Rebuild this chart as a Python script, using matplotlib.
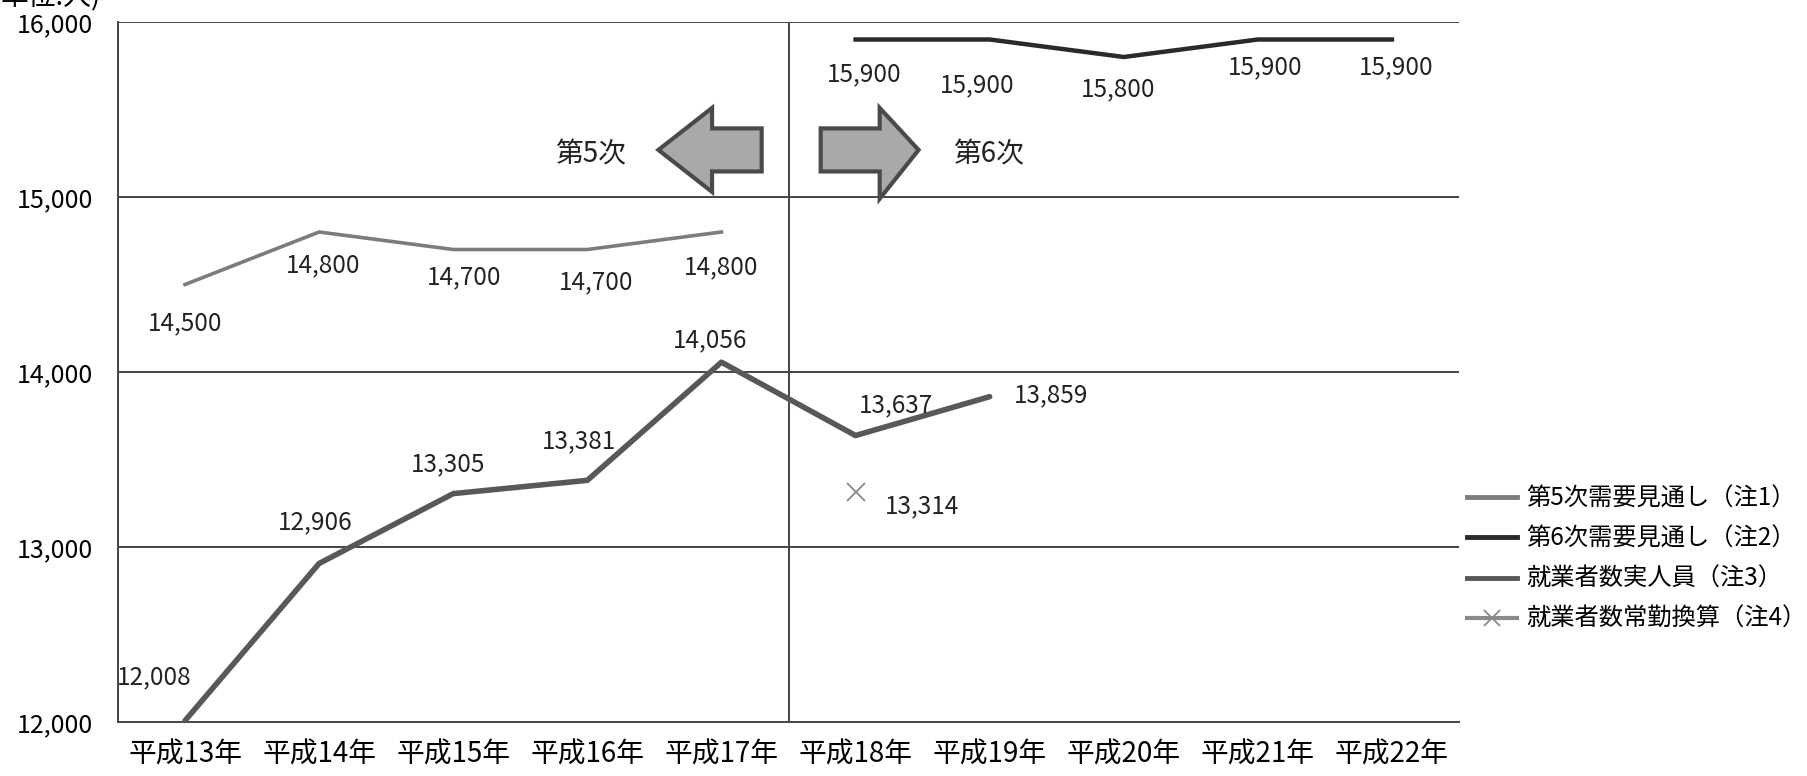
import matplotlib
matplotlib.use("Agg")
import matplotlib.pyplot as plt
from matplotlib.patches import Polygon
from matplotlib.lines import Line2D

plt.rcParams['font.family'] = ['Noto Sans CJK JP', 'DejaVu Sans']

categories = ["平成13年", "平成14年", "平成15年", "平成16年", "平成17年",
              "平成18年", "平成19年", "平成20年", "平成21年", "平成22年"]
plan5_idx = [0, 1, 2, 3, 4]
plan5 = [14500, 14800, 14700, 14700, 14800]
plan6_idx = [5, 6, 7, 8, 9]
plan6 = [15900, 15900, 15800, 15900, 15900]
actual_idx = [0, 1, 2, 3, 4, 5, 6]
actual = [12008, 12906, 13305, 13381, 14056, 13637, 13859]
fte_idx = [5]
fte = [13314]
legend_labels = ["第5次需要見通し（注1）", "第6次需要見通し（注2）",
                 "就業者数実人員（注3）", "就業者数常勤換算（注4）"]
yticks = [12000, 13000, 14000, 15000, 16000]

c5 = "#7c7c7c"
c6 = "#2a2a2a"
ca = "#585858"
cx = "#8a8a8a"

fig = plt.figure(figsize=(18.08, 7.76), dpi=100)
ax = fig.add_axes([118/1808, 1 - 722/776, (1459-118)/1808, (722-22)/776])
ax.set_xlim(-0.5, 9.5)
ax.set_ylim(12000, 16000)

for y in yticks[1:]:
    ax.axhline(y, color="#444444", lw=1.4, zorder=1)
ax.axvline(4.5, color="#444444", lw=1.4, zorder=1)
for s in ["top", "right"]:
    ax.spines[s].set_visible(False)
for s in ["left", "bottom"]:
    ax.spines[s].set_color("#444444")
    ax.spines[s].set_linewidth(1.4)

ax.plot(plan5_idx, plan5, color=c5, lw=2.6, zorder=3)
ax.plot(plan6_idx, plan6, color=c6, lw=3.2, zorder=3)
ax.plot(actual_idx, actual, color=ca, lw=4.0, zorder=3, solid_capstyle="round")
ax.plot(fte_idx, fte, ls="none", marker="x", ms=13, mew=1.3, color=cx, zorder=3)

lab_kw = dict(fontsize=17.5, color="#222222", textcoords="offset points",
              ha="center", va="center")
p5_off = [(0, -28), (3, -24), (8, -20), (6, -23.5), (0, -25.5)]
for x, v, off in zip(plan5_idx, plan5, p5_off):
    ax.annotate(f"{v:,}", (x, v), xytext=off, **lab_kw)
p6_off = [(6, -25), (-9, -33), (-4, -23), (5, -20), (3, -20)]
for x, v, off in zip(plan6_idx, plan6, p6_off):
    ax.annotate(f"{v:,}", (x, v), xytext=off, **lab_kw)
act_off = [(-22, 31), (-3, 30), (-4, 21), (-6, 28), (-8, 16), (29, 22), (44, 1)]
for x, v, off in zip(actual_idx, actual, act_off):
    ax.annotate(f"{v:,}", (x, v), xytext=off, **lab_kw)
for x, v in zip(fte_idx, fte):
    ax.annotate(f"{v:,}", (x, v), xytext=(48, -10), **lab_kw)

# direction arrows
left_arrow = [(3.53, 15269), (3.93, 15509), (3.93, 15392), (4.30, 15392),
              (4.30, 15146), (3.93, 15146), (3.93, 15029)]
right_arrow = [(5.47, 15269), (5.18, 15509), (5.18, 15392), (4.74, 15392),
               (4.74, 15146), (5.18, 15146), (5.18, 14990)]
for pts in (left_arrow, right_arrow):
    ax.add_patch(Polygon(pts, closed=True, facecolor="#a9a9a9",
                         edgecolor="#4a4a4a", lw=3, zorder=4, joinstyle="miter"))
ax.text(3.02, 15240, "第5次", fontsize=20, ha="center", va="center", color="#222222")
ax.text(5.99, 15240, "第6次", fontsize=20, ha="center", va="center", color="#222222")

ax.set_xticks(range(len(categories)))
ax.set_xticklabels(categories, fontsize=20)
ax.set_yticks(yticks)
ax.set_yticklabels([f"{v:,}" for v in yticks], fontsize=18)
ax.tick_params(length=0)
ax.tick_params(axis="x", pad=13)
ax.tick_params(axis="y", pad=18)

fig.text(0.0, 1 - 12/776, "単位:人)", fontsize=20, ha="left", va="bottom")

handles = [Line2D([], [], color=c5, lw=3.5),
           Line2D([], [], color=c6, lw=3.5),
           Line2D([], [], color=ca, lw=3.5),
           Line2D([], [], color=cx, lw=3, marker="x", ms=11, mew=1.3)]
fig.legend(handles, legend_labels, loc="center left",
           bbox_to_anchor=(1467/1808, 1 - 559/776), frameon=False,
           fontsize=17.5, handlelength=2.05, handletextpad=0.4,
           labelspacing=0.58, borderaxespad=0, borderpad=0)

fig.savefig("out.png", dpi=100, facecolor="white")
